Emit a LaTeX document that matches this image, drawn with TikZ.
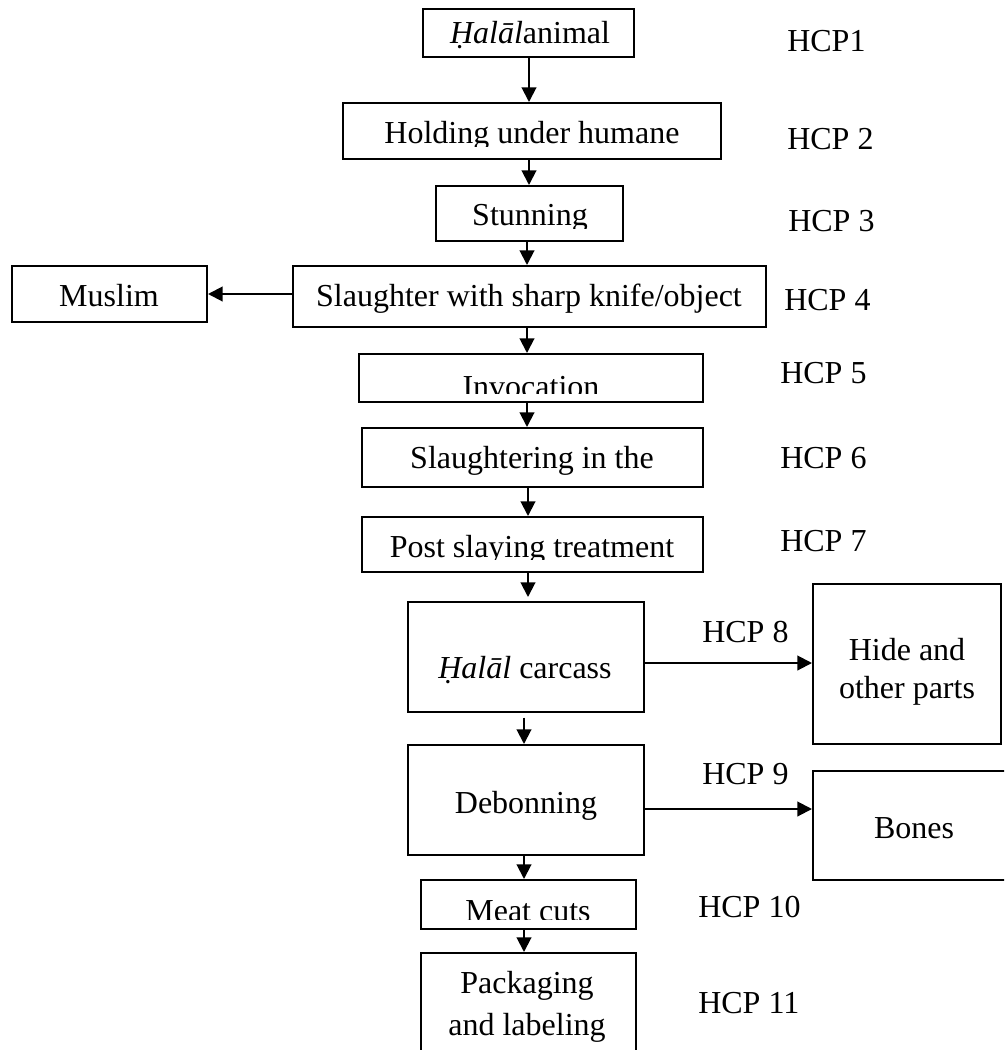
\documentclass[tikz,border=0pt]{standalone}
\usepackage{fontspec}
\setmainfont{Liberation Serif}
\usetikzlibrary{arrows.meta,fit}
\begin{document}
\begin{tikzpicture}[x=0.75pt,y=-0.75pt,
  box/.style={draw, line width=1.5pt, inner sep=0pt},
  lbl/.style={anchor=base, inner sep=0pt, font=\fontsize{24}{28}\selectfont},
  hcp/.style={anchor=base west, inner sep=0pt, font=\fontsize{24}{28}\selectfont},
  arr/.style={line width=1.5pt, -{Triangle[length=11pt,width=11pt]}}]
\useasboundingbox (0,0) rectangle (1004,1050);
\clip (0,0) rectangle (1004,1050);

% process boxes
\node[box, fit={(423,9)(634,57)}]      (halal)     {};
\node[box, fit={(343,103)(721,159)}]   (holding)   {};
\node[box, fit={(436,186)(623,241)}]   (stun)      {};
\node[box, fit={(293,266)(766,327)}]   (slaughter) {};
\node[box, fit={(12,266)(207,322)}]    (muslim)    {};
\node[box, fit={(359,354)(703,402)}]   (invoc)     {};
\node[box, fit={(362,428)(703,487)}]   (place)     {};
\node[box, fit={(362,517)(703,572)}]   (post)      {};
\node[box, fit={(408,602)(644,712)}]   (carcass)   {};
\node[box, fit={(813,584)(1001,744)}]  (hide)      {};
\node[box, fit={(408,745)(644,855)}]   (debone)    {};
\node[box, fit={(813,771)(1012,880)}]  (bones)     {};
\node[box, fit={(421,880)(636,929)}]   (cuts)      {};
\node[box, fit={(421,953)(636,1062)}]  (pack)      {};

% box texts
\node[lbl] (t-halal) at (530,43) {\textit{Ḥalāl}animal};
\begin{scope}
  \clip (345,105) rectangle (719,146);
  \node[lbl] (t-holding) at (532,143) {Holding under humane};
\end{scope}
\begin{scope}
  \clip (438,188) rectangle (621,228);
  \node[lbl] (t-stun) at (530,225) {Stunning};
\end{scope}
\node[lbl] (t-slaughter) at (529,306) {Slaughter with sharp knife/object};
\node[lbl] (t-muslim) at (109,306) {Muslim};
\begin{scope}
  \clip (361,356) rectangle (701,393);
  \node[lbl] (t-invoc) at (531,397) {Invocation};
\end{scope}
\node[lbl] (t-place) at (532,468) {Slaughtering in the};
\begin{scope}
  \clip (364,519) rectangle (701,559);
  \node[lbl] (t-post) at (532,557) {Post slaying treatment};
\end{scope}
\node[lbl] (t-carcass) at (525,678) {\textit{Ḥalāl} carcass};
\node[lbl] (t-hide1) at (907,660) {Hide and};
\node[lbl] (t-hide2) at (907,698) {other parts};
\node[lbl] (t-debone) at (526,813) {Debonning};
\node[lbl] (t-bones) at (914,838) {Bones};
\begin{scope}
  \clip (423,882) rectangle (634,919);
  \node[lbl] (t-cuts) at (528,921) {Meat cuts};
\end{scope}
\node[lbl] (t-pack1) at (527,993) {Packaging};
\node[lbl] (t-pack2) at (527,1035) {and labeling};

% control point labels
\node[hcp] (h1)  at (787,51)   {HCP1};
\node[hcp] (h2)  at (787,149)  {HCP 2};
\node[hcp] (h3)  at (788,231)  {HCP 3};
\node[hcp] (h4)  at (784,310)  {HCP 4};
\node[hcp] (h5)  at (780,383)  {HCP 5};
\node[hcp] (h6)  at (780,468)  {HCP 6};
\node[hcp] (h7)  at (780,551)  {HCP 7};
\node[hcp] (h8)  at (702,642)  {HCP 8};
\node[hcp] (h9)  at (702,784)  {HCP 9};
\node[hcp] (h10) at (698,917)  {HCP 10};
\node[hcp] (h11) at (698,1013) {HCP 11};

% arrow columns and rows
\coordinate (xa) at (529,0);
\coordinate (xb) at (527,0);
\coordinate (xc) at (528,0);
\coordinate (xd) at (524,0);
\coordinate (ya) at (0,663);
\coordinate (yb) at (0,809);

% connectors
\draw[arr] (halal.south -| xa) -- (holding.north -| xa);
\draw[arr] (holding.south -| xa) -- (stun.north -| xa);
\draw[arr] (stun.south -| xb) -- (slaughter.north -| xb);
\draw[arr] (slaughter.west |- muslim.east) -- (muslim.east);
\draw[arr] (slaughter.south -| xb) -- (invoc.north -| xb);
\draw[arr] (invoc.south -| xb) -- (place.north -| xb);
\draw[arr] (place.south -| xc) -- (post.north -| xc);
\draw[arr, shorten >=3pt] (post.south -| xc) -- (carcass.north -| xc);
\draw[arr] (carcass.east |- ya) -- (hide.west |- ya);
\draw[arr, shorten <=3.5pt] (carcass.south -| xd) -- (debone.north -| xd);
\draw[arr] (debone.east |- yb) -- (bones.west |- yb);
\draw[arr] (debone.south -| xd) -- (cuts.north -| xd);
\draw[arr] (cuts.south -| xd) -- (pack.north -| xd);
\end{tikzpicture}
\end{document}
